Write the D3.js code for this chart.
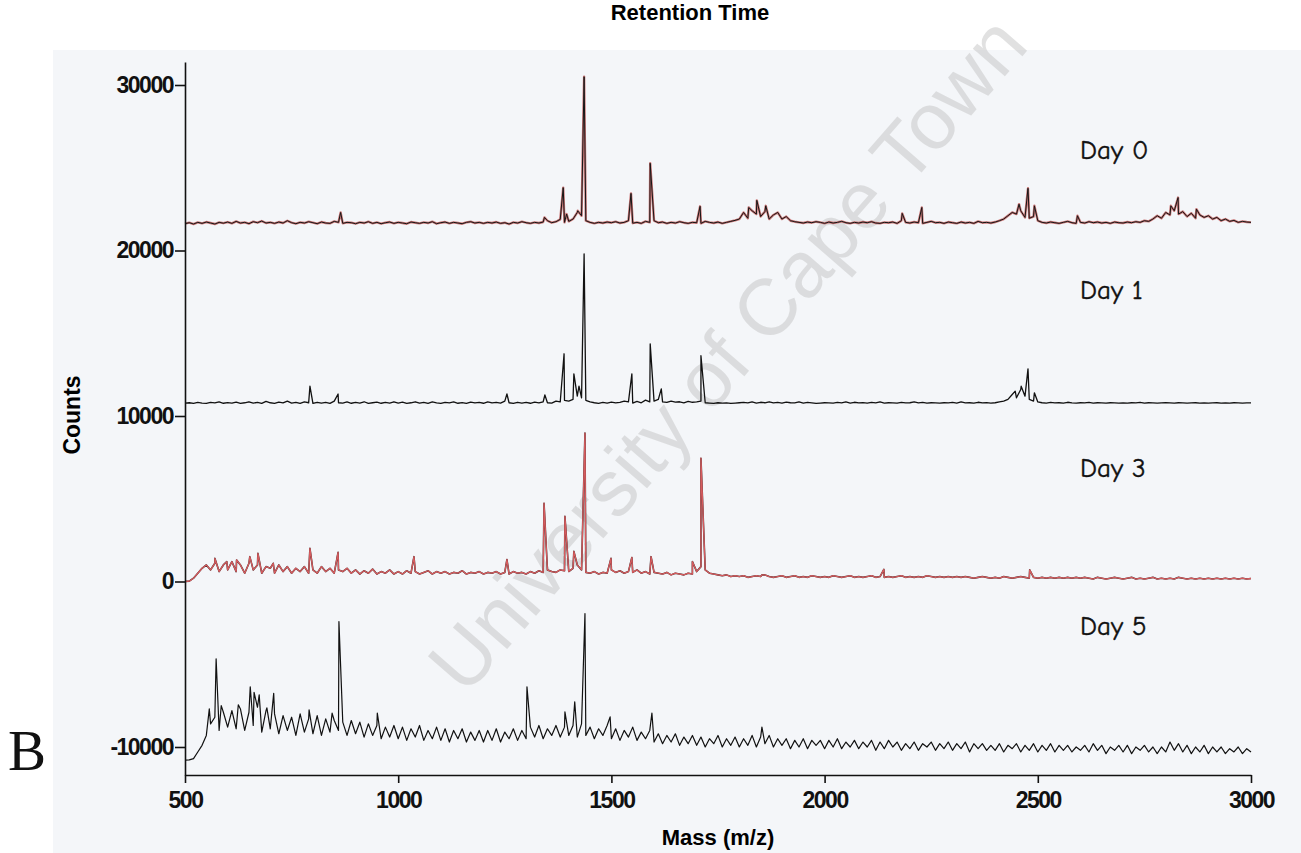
<!DOCTYPE html>
<html>
<head>
<meta charset="utf-8">
<script src="https://cdn.jsdelivr.net/npm/d3@7"></script>
<style>
  body { margin: 0; background: #fff; }
  svg { display: block; }
</style>
</head>
<body>
<div id="chart"></div>
<script>
// m/z grid for the sampled baselines (every 10 m/z)
const mzGrid = d3.range(500, 3001, 10);

const xTicks = [500, 1000, 1500, 2000, 2500, 3000];
const yTicks = [-10000, 0, 10000, 20000, 30000];
const dayLabels = ["Day 0", "Day 1", "Day 3", "Day 5"];

// baseline counts, one value per 10 m/z
const day0Base = [
  21620,21680,21600,21700,21640,21720,21660,21600,21700,21650,
  21720,21640,21760,21660,21700,21620,21740,21680,21780,21660,
  21700,21640,21720,21660,21800,21680,21620,21700,21660,21740,
  21680,21620,21720,21660,21640,21760,21700,21640,21700,21680,
  21620,21700,21660,21740,21640,21700,21620,21680,21720,21640,
  21700,21660,21620,21720,21680,21640,21700,21660,21740,21620,
  21680,21720,21640,21700,21660,21620,21700,21740,21660,21700,
  21640,21700,21660,21720,21640,21680,21600,21700,21660,21740,
  21680,21640,21700,21660,21720,21800,21680,21740,21880,21700,
  21760,21900,22300,22100,21800,21700,21640,21700,21660,21720,
  21680,21740,21660,21700,21800,21650,21700,21640,21760,21700,
  21800,21680,21720,21640,21700,21660,21740,21680,21640,21700,
  21680,21640,21760,21700,21660,21720,21640,21700,21760,21820,
  21900,22300,21950,22400,22200,22050,22350,21900,22150,22300,
  21900,22050,21800,21740,21700,21660,21720,21680,21740,21700,
  21640,21720,21660,21700,21760,21680,21640,21700,21660,21720,
  21680,21740,21660,21640,21700,21680,21720,21640,21800,21700,
  21660,21720,21680,21640,21700,21760,21680,21700,21640,21720,
  21680,21640,21720,21660,21700,21640,21760,21680,21700,21660,
  21720,21800,21900,22100,22300,22200,22400,22000,21950,22050,
  21800,21700,21660,21720,21680,21640,21700,21760,21680,21640,
  21700,21660,21740,21680,21720,21660,21700,21640,21720,21680,
  21660,21720,21680,21740,21700,21800,21760,21900,22100,21950,
  22300,22150,22400,22200,22350,22050,22250,21950,22150,22000,
  22100,21900,22000,21800,21900,21760,21820,21700,21760,21720,
  21700
];
const day0Peaks = [
  [865, 22300], [1343, 22000], [1387, 23800], [1395, 22200], [1421, 22400],
  [1436, 30500], [1546, 23450], [1591, 25270], [1708, 22670], [1822, 22600],
  [1841, 23030], [1862, 22700], [2182, 22240], [2228, 22600], [2456, 22800],
  [2477, 23760], [2492, 22700], [2593, 22100], [2812, 22700], [2829, 23200],
  [2872, 22500]
];

const day1Base = [
  10780,10800,10760,10820,10780,10760,10820,10790,10850,10770,
  10810,10780,10840,10760,10800,10860,10780,10820,10760,10880,
  10800,10760,10840,10790,10900,10780,10820,10760,10850,10800,
  10760,10830,10780,10820,10760,10900,10800,10780,10850,10770,
  10820,10780,10860,10760,10800,10840,10770,10820,10780,10860,
  10780,10840,10760,10800,10860,10780,10820,10760,10850,10790,
  10760,10820,10790,10850,10770,10810,10760,10840,10790,10820,
  10770,10850,10790,10820,10780,10900,10800,10760,10830,10780,
  10820,10770,10840,10790,10860,10800,10780,10900,10850,10950,
  10900,11000,11200,11100,10950,10850,10800,10760,10820,10780,
  10840,10790,10820,10900,10850,10780,10880,10800,10960,10850,
  10900,11000,10850,10820,10900,10840,10860,10800,10880,10830,
  10850,10900,10800,10780,10760,10800,10780,10790,10760,10780,
  10800,10820,10790,10850,10780,10830,10800,10860,10790,10820,
  10780,10840,10800,10790,10850,10780,10820,10790,10760,10780,
  10800,10790,10780,10820,10790,10850,10780,10830,10790,10810,
  10780,10820,10790,10850,10780,10800,10790,10780,10820,10790,
  10800,10850,10790,10820,10780,10800,10790,10780,10800,10790,
  10820,10780,10850,10790,10800,10780,10830,10790,10810,10780,
  10800,10850,10900,11000,11300,11100,11600,11200,11000,10900,
  10850,10800,10780,10820,10790,10800,10780,10830,10790,10780,
  10800,10790,10820,10780,10800,10790,10780,10800,10790,10780,
  10790,10780,10800,10790,10820,10780,10800,10790,10780,10790,
  10800,10790,10780,10800,10790,10780,10790,10800,10780,10790,
  10780,10790,10800,10780,10790,10780,10800,10790,10780,10790,
  10790
];
const day1Peaks = [
  [793, 11800], [859, 11330], [1255, 11330], [1344, 11270], [1389, 13760],
  [1412, 12550], [1424, 11800], [1436, 19800], [1548, 12550], [1591, 14360],
  [1617, 11640], [1710, 13640], [2447, 11500], [2461, 11800], [2477, 12850],
  [2492, 11400]
];

const day3Base = [
  0,20,200,500,800,1000,700,1100,600,1000,
  700,1200,600,1000,500,1100,700,1000,500,900,
  800,500,1000,600,900,500,800,600,900,500,
  700,500,900,600,800,500,700,600,800,500,
  700,450,650,500,750,450,600,500,700,450,
  600,450,650,500,600,450,550,650,450,600,
  500,600,450,550,500,650,450,550,500,600,
  450,550,500,600,450,550,450,600,500,550,
  450,600,500,650,550,700,600,550,700,650,
  600,800,1000,700,550,500,600,450,550,500,
  700,550,650,500,600,550,700,500,600,450,
  550,500,450,550,400,500,450,400,500,450,
  600,900,700,500,450,400,350,400,300,350,
  300,350,250,300,350,300,400,300,250,300,
  350,250,300,350,250,300,250,350,300,250,
  300,250,350,300,250,300,350,250,300,250,
  300,350,250,300,250,300,250,300,350,250,
  300,250,300,250,350,300,250,300,250,300,
  250,300,250,300,250,200,250,300,250,200,
  250,200,300,250,200,250,300,250,200,250,
  200,250,200,250,200,250,200,250,200,250,
  200,250,200,150,250,200,150,200,250,200,
  150,200,250,150,200,150,200,250,150,200,
  150,200,150,250,200,150,200,150,200,150,
  200,150,200,150,200,150,200,150,200,150,
  180
];
const day3Peaks = [
  [570, 1400], [598, 1200], [621, 1300], [652, 1500], [671, 1700],
  [707, 1100], [793, 2000], [859, 1760], [1037, 1500], [1255, 1330],
  [1342, 4730], [1391, 3940], [1412, 1820], [1438, 8970], [1499, 1400],
  [1548, 1450], [1593, 1500], [1690, 1200], [1710, 7450], [1853, 400],
  [2139, 730], [2481, 700]
];

const day5Base = [
  -10790,-10780,-10700,-10300,-9900,-9300,-8600,-8200,-9000,-7900,
  -8800,-7800,-8900,-7700,-9000,-7900,-8700,-7600,-9100,-7800,
  -8900,-8000,-9200,-8100,-9000,-8200,-9300,-8000,-9100,-8300,
  -9200,-8100,-9300,-8300,-9100,-8400,-9000,-8500,-9300,-8400,
  -9200,-8500,-9400,-8600,-9300,-8700,-9500,-8800,-9400,-8700,
  -9500,-8800,-9600,-8900,-9400,-8700,-9600,-9000,-9500,-8800,
  -9600,-8900,-9700,-9000,-9500,-8900,-9700,-9100,-9600,-9000,
  -9700,-9000,-9600,-8900,-9700,-9100,-9500,-8900,-9600,-9000,
  -9500,-8800,-9400,-8700,-9500,-8900,-9300,-8700,-9400,-8800,
  -9300,-8700,-9400,-8600,-9300,-8800,-9500,-8900,-9300,-8700,
  -9500,-8900,-9600,-9000,-9400,-8800,-9600,-9100,-9500,-9000,
  -9700,-9200,-9800,-9300,-9700,-9200,-9900,-9400,-9800,-9300,
  -9900,-9400,-10000,-9500,-9800,-9300,-10000,-9500,-9900,-9400,
  -10000,-9500,-9900,-9300,-10000,-9400,-9800,-9300,-10000,-9500,
  -9900,-9500,-10100,-9600,-10000,-9500,-10100,-9600,-9900,-9600,
  -10100,-9600,-10000,-9500,-10100,-9700,-10000,-9600,-10100,-9700,
  -10000,-9600,-10200,-9700,-10100,-9600,-10000,-9700,-10200,-9800,
  -10100,-9700,-10200,-9800,-10000,-9700,-10200,-9800,-10100,-9700,
  -10200,-9800,-10100,-9700,-10300,-9800,-10100,-9800,-10200,-9900,
  -10200,-9800,-10300,-9900,-10100,-9800,-10300,-9900,-10200,-9800,
  -10300,-9900,-10200,-9800,-10300,-9900,-10200,-9900,-10300,-10000,
  -10200,-9900,-10300,-9800,-10200,-9900,-10400,-10000,-10200,-9900,
  -10300,-9900,-10400,-10000,-10200,-9900,-10300,-10000,-10400,-10000,
  -10300,-9700,-10200,-9800,-10300,-9900,-10400,-10000,-10300,-9900,
  -10400,-10000,-10300,-10000,-10400,-10100,-10300,-10000,-10400,-10100,
  -10300
];
const day5Peaks = [
  [557, -7700], [573, -4670], [585, -7500], [625, -7450], [653, -6360],
  [662, -6700], [674, -6850], [692, -7640], [708, -6760], [791, -7760],
  [845, -7950], [861, -2420], [951, -7950], [1302, -6360], [1391, -7880],
  [1414, -7270], [1438, -1940], [1497, -8180], [1595, -7950], [1853, -8800]
];

// merge sampled baseline with the read peak tops
function toPoints(base, peaks) {
  const pts = base.map((v, i) => [mzGrid[i], v]);
  peaks.forEach(p => pts.push(p));
  pts.sort((a, b) => a[0] - b[0]);
  return pts;
}

const W = 1301, H = 853;
const svg = d3.select("#chart").append("svg")
  .attr("width", W)
  .attr("height", H);

// scanned page tint
svg.append("rect")
  .attr("x", 53).attr("y", 50)
  .attr("width", W - 53).attr("height", H - 50)
  .attr("fill", "#f4f6f9");

const x = d3.scaleLinear().domain([500, 3000]).range([185, 1251]);
const y = d3.scaleLinear().domain([-11692, 31390]).range([775, 62]);

const line = d3.line()
  .x(d => x(d[0]))
  .y(d => y(d[1]));

// watermark
svg.append("text")
  .attr("transform", "translate(748,372) rotate(-49)")
  .attr("text-anchor", "middle")
  .style("font-family", "'Liberation Sans', Arial, sans-serif")
  .style("font-size", "80px")
  .style("fill", "#c4c4c4")
  .style("opacity", 0.5)
  .text("University of Cape Town");

// traces
const traces = [
  { pts: toPoints(day0Base, day0Peaks), under: "#c97676", uw: 2.4, over: "#161616", ow: 1.0, oo: 1 },
  { pts: toPoints(day1Base, day1Peaks), under: null, over: "#111", ow: 1.3, oo: 1 },
  { pts: toPoints(day3Base, day3Peaks), under: "#3a2a2a", uw: 1.6, over: "#d65b5e", ow: 1.3, oo: 1 },
  { pts: toPoints(day5Base, day5Peaks), under: null, over: "#111", ow: 1.2, oo: 1 }
];

traces.forEach(t => {
  if (t.under) {
    svg.append("path")
      .datum(t.pts)
      .attr("fill", "none")
      .attr("stroke", t.under)
      .attr("stroke-width", t.uw)
      .attr("stroke-linejoin", "round")
      .attr("d", line);
  }
  svg.append("path")
    .datum(t.pts)
    .attr("fill", "none")
    .attr("stroke", t.over)
    .attr("stroke-width", t.ow)
    .attr("stroke-opacity", t.oo)
    .attr("stroke-linejoin", "round")
    .attr("d", line);
});

// axes
const tickFont = "'Liberation Sans', Arial, sans-serif";

const yAxis = svg.append("g")
  .attr("transform", "translate(185,0)")
  .call(d3.axisLeft(y).tickValues(yTicks).tickSize(10).tickSizeOuter(0).tickPadding(2).tickFormat(d => String(d)));

const xAxis = svg.append("g")
  .attr("transform", "translate(0,775)")
  .call(d3.axisBottom(x).tickValues(xTicks).tickSize(8).tickSizeOuter(0).tickPadding(9).tickFormat(d => String(d)));

[yAxis, xAxis].forEach(g => {
  g.select(".domain").attr("stroke", "#111").attr("stroke-width", 1.6);
  g.selectAll(".tick line").attr("stroke", "#111").attr("stroke-width", 1.6);
  g.selectAll(".tick text")
    .style("font-family", tickFont)
    .style("font-size", "23px")
    .style("font-weight", "bold")
    .style("letter-spacing", "-1.5px")
    .attr("fill", "#111");
});

// axis titles
svg.append("text")
  .attr("transform", "translate(80,415) rotate(-90)")
  .attr("text-anchor", "middle")
  .style("font-family", tickFont)
  .style("font-size", "23px")
  .style("font-weight", "bold")
  .text("Counts");

svg.append("text")
  .attr("x", 718).attr("y", 845)
  .attr("text-anchor", "middle")
  .style("font-family", tickFont)
  .style("font-size", "22px")
  .style("font-weight", "bold")
  .text("Mass (m/z)");

// header at the top edge
svg.append("text")
  .attr("x", 690).attr("y", 20)
  .attr("text-anchor", "middle")
  .style("font-family", tickFont)
  .style("font-size", "22px")
  .style("font-weight", "bold")
  .text("Retention Time");

// day labels
const labelY = [159, 299, 477, 635];
dayLabels.forEach((lab, i) => {
  svg.append("text")
    .attr("x", 1080).attr("y", labelY[i])
    .style("font-family", "'Comic Sans MS', 'Comic Neue', 'Noto Sans', sans-serif")
    .style("font-size", "27px")
    .attr("fill", "#111")
    .attr("stroke", "#111")
    .attr("stroke-width", 0.4)
    .text(lab);
});

// panel letter
svg.append("text")
  .attr("x", 8).attr("y", 770)
  .style("font-family", "'Liberation Serif', 'Times New Roman', serif")
  .style("font-size", "57px")
  .attr("fill", "#111")
  .text("B");
</script>
</body>
</html>
